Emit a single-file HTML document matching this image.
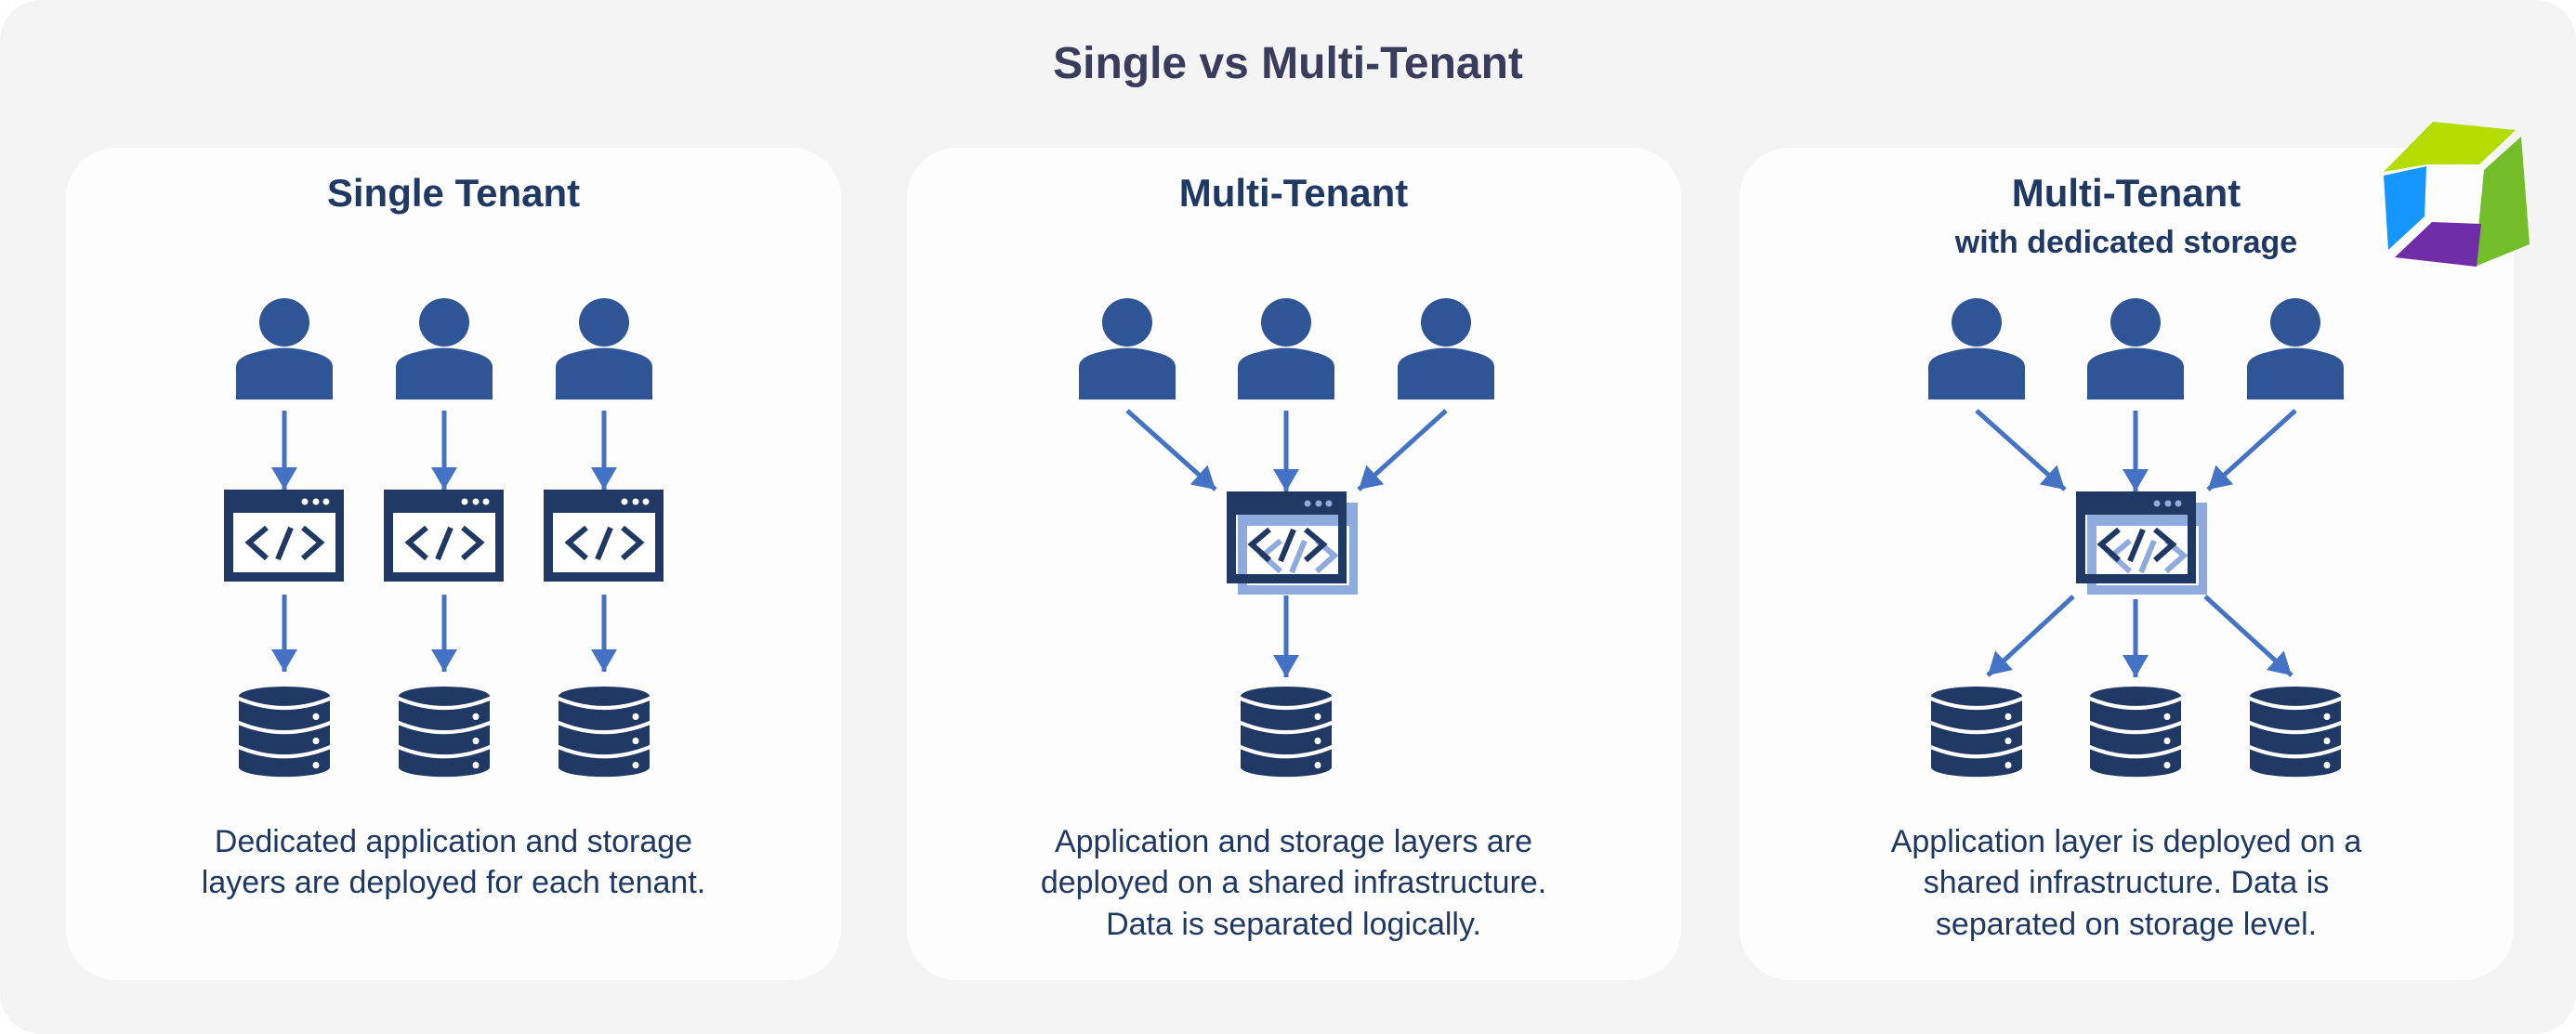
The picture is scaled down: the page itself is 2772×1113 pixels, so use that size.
<!DOCTYPE html>
<html><head><meta charset="utf-8"><style>
html,body{margin:0;padding:0;background:#fff;}
svg{display:block;}
text{font-family:"Liberation Sans",sans-serif;}
</style></head><body>
<svg width="2772" height="1113" viewBox="0 0 2772 1113" xmlns="http://www.w3.org/2000/svg">
<defs>
<marker id="ah" viewBox="0 0 24 28" refX="24" refY="14" markerWidth="24" markerHeight="28" markerUnits="userSpaceOnUse" orient="auto">
<path d="M0 0 L24 14 L0 28 Z" fill="#4472c4"/></marker>
<g id="person">
<ellipse cx="0" cy="347" rx="27" ry="26" fill="#2f5597"/>
<path d="M-52 430 V395 Q-52 384 -30 379 Q0 370 30 379 Q52 384 52 395 V430 Z" fill="#2f5597"/>
</g>
<g id="browser">
<rect x="0" y="0" width="129" height="99" fill="#203864"/>
<rect x="10" y="25" width="110" height="64" fill="#fff"/>
<circle cx="87" cy="13" r="3.5" fill="#fff"/><circle cx="99" cy="13" r="3.5" fill="#fff"/><circle cx="110" cy="13" r="3.5" fill="#fff"/>
<path d="M46 41 L27 57 L46 74 M72 41 L58 75 M85 41 L104 57 L85 74" stroke="#203864" stroke-width="6" fill="none"/>
</g>
<g id="browserL">
<rect x="0" y="0" width="129" height="99" fill="#8faadc"/>
<rect x="10" y="25" width="110" height="64" fill="#fff"/>
<path d="M46 41 L27 57 L46 74 M72 41 L58 75 M85 41 L104 57 L85 74" stroke="#8faadc" stroke-width="6" fill="none"/>
</g>
<g id="browserF">
<path fill-rule="evenodd" d="M0 0 H129 V99 H0 Z M10 25 V89 H120 V25 Z" fill="#203864"/>
<circle cx="87" cy="13" r="3.5" fill="#8faadc"/><circle cx="99" cy="13" r="3.5" fill="#8faadc"/><circle cx="110" cy="13" r="3.5" fill="#8faadc"/>
<path d="M46 41 L27 57 L46 74 M72 41 L58 75 M85 41 L104 57 L85 74" stroke="#203864" stroke-width="6" fill="none"/>
</g>
<g id="db0">
<ellipse cx="0" cy="10" rx="49" ry="10" fill="#203864"/>
<rect x="-49" y="10" width="98" height="73" fill="#203864"/>
<ellipse cx="0" cy="83" rx="49" ry="10" fill="#203864"/>
<path d="M-50 12 Q0 32 50 12 M-50 37 Q0 57 50 37 M-50 62 Q0 82 50 62" stroke="#fff" stroke-width="4" fill="none"/>
<circle cx="34" cy="31" r="3.5" fill="#fff"/><circle cx="34" cy="56" r="3.5" fill="#fff"/><circle cx="34" cy="81" r="3.5" fill="#fff"/>
</g>
<g id="db"><use href="#db0" transform="scale(1,1.045)"/></g>
</defs>

<rect x="0" y="0" width="2772" height="1113" rx="44" fill="#f4f4f4"/>
<text x="1386" y="84" text-anchor="middle" font-size="48" font-weight="bold" fill="#3b3b5c">Single vs Multi-Tenant</text>

<rect x="71" y="159" width="834" height="896" rx="54" fill="#fdfdfd"/>
<rect x="976" y="159" width="833" height="896" rx="54" fill="#fdfdfd"/>
<rect x="1872" y="159" width="833" height="896" rx="54" fill="#fdfdfd"/>

<g fill="#1f3864" text-anchor="middle" font-weight="bold">
<text x="488" y="222" font-size="42">Single Tenant</text>
<text x="1392" y="222" font-size="42">Multi-Tenant</text>
<text x="2288" y="222" font-size="42">Multi-Tenant</text>
<text x="2288" y="272" font-size="34">with dedicated storage</text>
</g>

<!-- Card 1 -->
<use href="#person" x="306"/><use href="#person" x="478"/><use href="#person" x="650"/>
<g stroke="#4472c4" stroke-width="5" marker-end="url(#ah)">
<line x1="306" y1="442" x2="306" y2="527"/><line x1="478" y1="442" x2="478" y2="527"/><line x1="650" y1="442" x2="650" y2="527"/>
<line x1="306" y1="640" x2="306" y2="723"/><line x1="478" y1="640" x2="478" y2="723"/><line x1="650" y1="640" x2="650" y2="723"/>
</g>
<use href="#browser" x="241" y="527"/><use href="#browser" x="413" y="527"/><use href="#browser" x="585" y="527"/>
<use href="#db" x="306" y="739"/><use href="#db" x="478" y="739"/><use href="#db" x="650" y="739"/>

<!-- Card 2 -->
<use href="#person" x="1213"/><use href="#person" x="1384"/><use href="#person" x="1556"/>
<g stroke="#4472c4" stroke-width="5" marker-end="url(#ah)">
<line x1="1213" y1="442" x2="1308" y2="527"/><line x1="1384" y1="442" x2="1384" y2="529"/><line x1="1556" y1="442" x2="1462" y2="527"/>
<line x1="1384" y1="641" x2="1384" y2="729"/>
</g>
<use href="#browserL" x="1332" y="541"/><use href="#browserF" x="1320" y="529"/>
<use href="#db" x="1384" y="739"/>

<!-- Card 3 -->
<use href="#person" x="2127"/><use href="#person" x="2298"/><use href="#person" x="2470"/>
<g stroke="#4472c4" stroke-width="5" marker-end="url(#ah)">
<line x1="2127" y1="442" x2="2222" y2="527"/><line x1="2298" y1="442" x2="2298" y2="529"/><line x1="2470" y1="442" x2="2376" y2="527"/>
<line x1="2231" y1="642" x2="2139" y2="727"/><line x1="2298" y1="645" x2="2298" y2="729"/><line x1="2373" y1="642" x2="2466" y2="727"/>
</g>
<use href="#browserL" x="2246" y="541"/><use href="#browserF" x="2234" y="529"/>
<use href="#db" x="2127" y="739"/><use href="#db" x="2298" y="739"/><use href="#db" x="2470" y="739"/>

<g fill="#1f3864" text-anchor="middle" font-size="34">
<text x="488" y="917">Dedicated application and storage</text>
<text x="488" y="961">layers are deployed for each tenant.</text>
<text x="1392" y="917">Application and storage layers are</text>
<text x="1392" y="961">deployed on a shared infrastructure.</text>
<text x="1392" y="1006">Data is separated logically.</text>
<text x="2288" y="917">Application layer is deployed on a</text>
<text x="2288" y="961">shared infrastructure. Data is</text>
<text x="2288" y="1006">separated on storage level.</text>
</g>

<!-- logo -->
<polygon points="2565,185 2618,131 2707,140 2668,177 2612,177" fill="#b4dc00"/>
<polygon points="2565,189 2611,179 2609,233 2570,269" fill="#1496ff"/>
<polygon points="2713,147 2722,263 2663,287 2673,183" fill="#73be28"/>
<polygon points="2617,239 2670,241 2665,287 2577,277" fill="#6f2da8"/>
</svg>
</body></html>
